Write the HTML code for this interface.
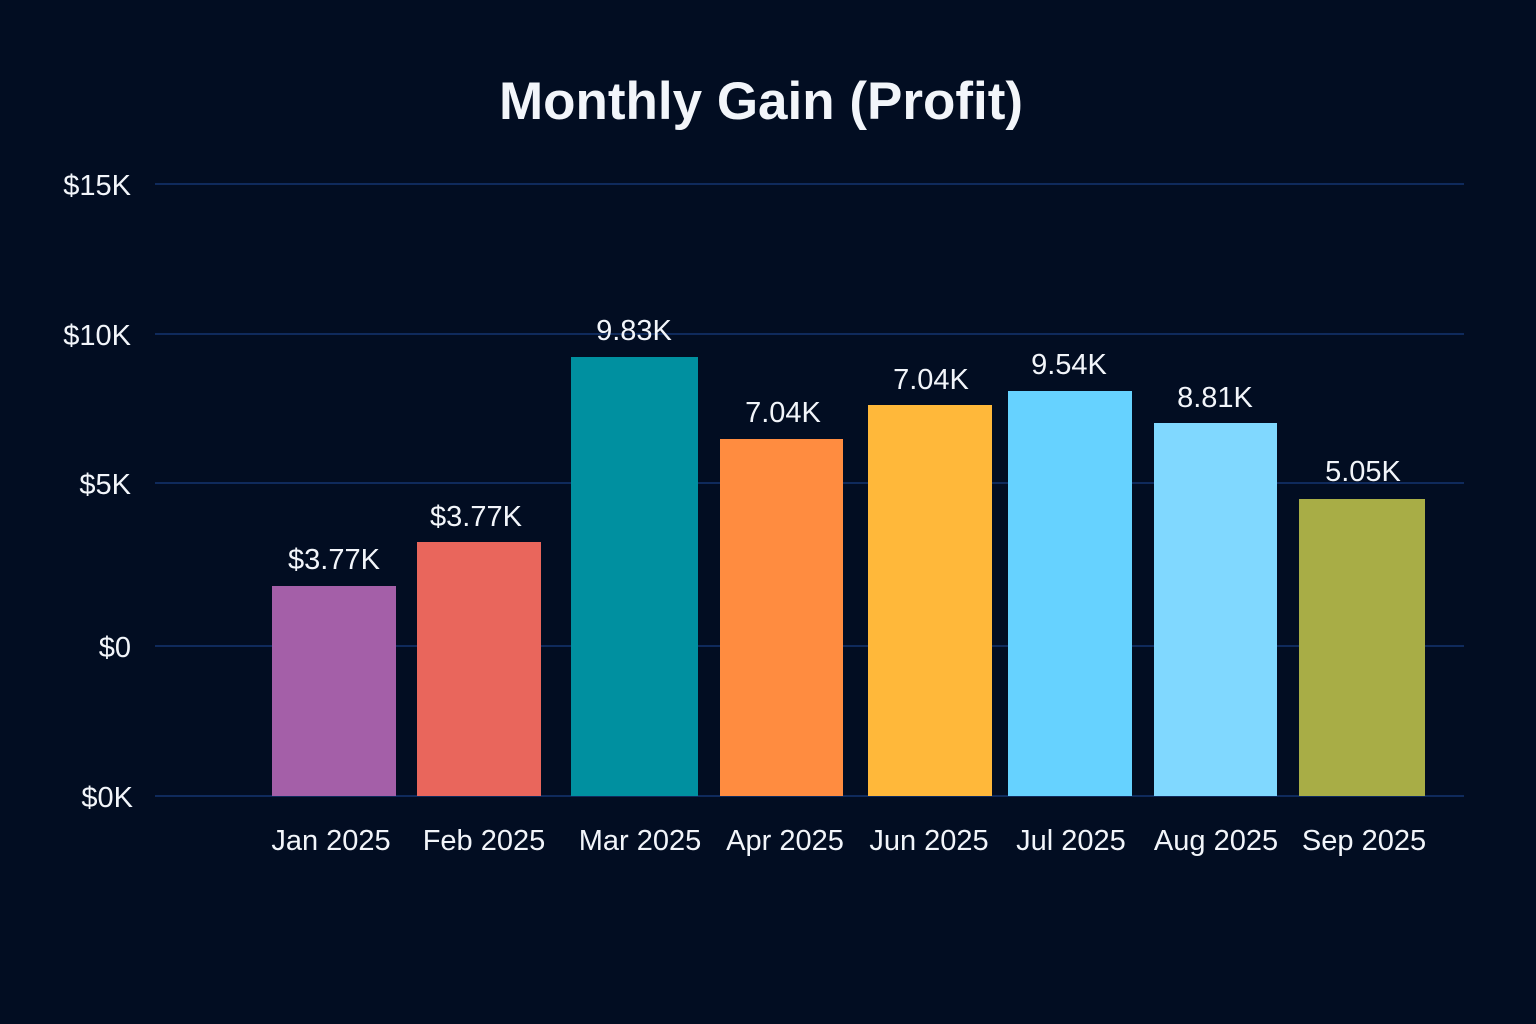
<!DOCTYPE html>
<html><head><style>
body{margin:0;background:#020d22;}
svg{display:block}
</style></head><body>
<svg width="1536" height="1024" xmlns="http://www.w3.org/2000/svg" font-family="Liberation Sans, sans-serif">
<rect width="1536" height="1024" fill="#020d22"/>
<text x="761" y="119" text-anchor="middle" font-size="53" font-weight="bold" fill="#f2f5fa">Monthly Gain (Profit)</text>
<g stroke="#0f2a5c" stroke-width="2">
<line x1="155" x2="1464" y1="184" y2="184"/>
<line x1="155" x2="1464" y1="334" y2="334"/>
<line x1="155" x2="1464" y1="483" y2="483"/>
<line x1="155" x2="1464" y1="646" y2="646"/>
<line x1="155" x2="1464" y1="796" y2="796"/>
</g>
<g fill="#f2f5fa" font-size="29" text-anchor="end">
<text x="131" y="195">$15K</text>
<text x="131" y="345">$10K</text>
<text x="131" y="494">$5K</text>
<text x="131" y="657">$0</text>
<text x="133" y="807">$0K</text>
</g>
<rect x="272" y="586" width="124" height="210" fill="#a45fa8"/>
<rect x="417" y="542" width="124" height="254" fill="#e9665c"/>
<rect x="571" y="357" width="127" height="439" fill="#0090a0"/>
<rect x="720" y="439" width="123" height="357" fill="#ff8c40"/>
<rect x="868" y="405" width="124" height="391" fill="#ffb83a"/>
<rect x="1008" y="391" width="124" height="405" fill="#66d2ff"/>
<rect x="1154" y="423" width="123" height="373" fill="#80d8ff"/>
<rect x="1299" y="499" width="126" height="297" fill="#a8ad46"/>
<g fill="#f2f5fa" font-size="29" text-anchor="middle">
<text x="334" y="569">$3.77K</text>
<text x="476" y="526">$3.77K</text>
<text x="634" y="340">9.83K</text>
<text x="783" y="422">7.04K</text>
<text x="931" y="389">7.04K</text>
<text x="1069" y="374">9.54K</text>
<text x="1215" y="407">8.81K</text>
<text x="1363" y="481">5.05K</text>
</g>
<g fill="#f2f5fa" font-size="29" text-anchor="middle">
<text x="331" y="850">Jan 2025</text>
<text x="484" y="850">Feb 2025</text>
<text x="640" y="850">Mar 2025</text>
<text x="785" y="850">Apr 2025</text>
<text x="929" y="850">Jun 2025</text>
<text x="1071" y="850">Jul 2025</text>
<text x="1216" y="850">Aug 2025</text>
<text x="1364" y="850">Sep 2025</text>
</g>
</svg>
</body></html>
